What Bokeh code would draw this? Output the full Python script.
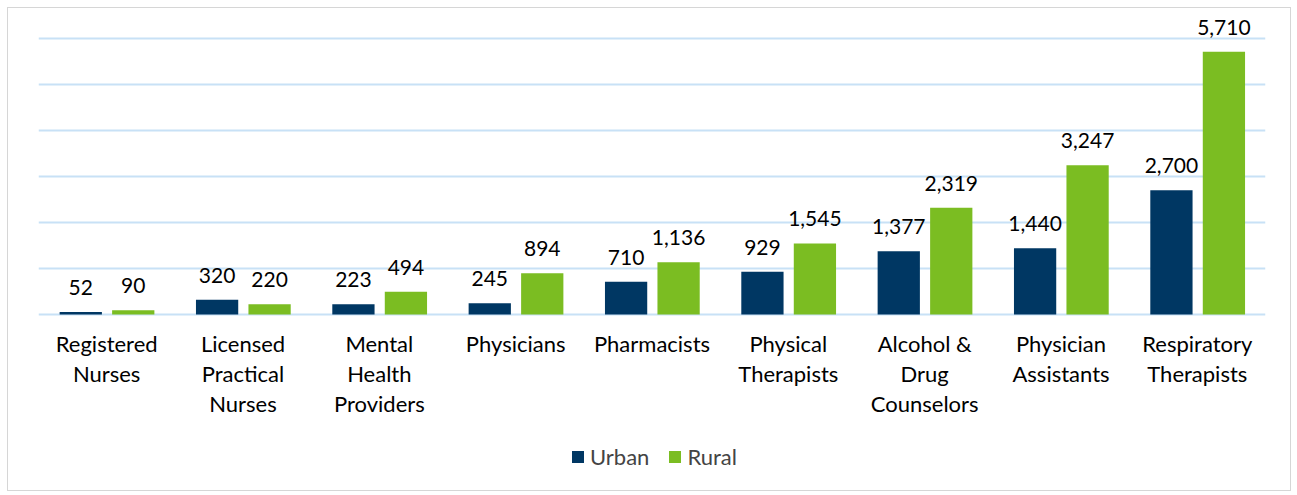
from bokeh.plotting import figure
from bokeh.models import ColumnDataSource, Legend, LegendItem, FixedTicker, FactorRange
from bokeh.transform import dodge
from bokeh.core.properties import value
from bokeh.embed import file_html
from bokeh.resources import INLINE

categories = ["Registered Nurses", "Licensed Practical Nurses", "Mental Health Providers",
              "Physicians", "Pharmacists", "Physical Therapists", "Alcohol & Drug Counselors",
              "Physician Assistants", "Respiratory Therapists"]
cat_labels = ["Registered\nNurses", "Licensed\nPractical\nNurses", "Mental\nHealth\nProviders",
              "Physicians", "Pharmacists", "Physical\nTherapists", "Alcohol &\nDrug\nCounselors",
              "Physician\nAssistants", "Respiratory\nTherapists"]
urban = [52, 320, 223, 245, 710, 929, 1377, 1440, 2700]
rural = [90, 220, 494, 894, 1136, 1545, 2319, 3247, 5710]
grid_ticks = [0, 1000, 2000, 3000, 4000, 5000, 6000]

src = ColumnDataSource(dict(
    cat=categories, clab=cat_labels, zero=[0] * len(categories),
    urban=urban, rural=rural,
    ulab=[f"{v:,}" for v in urban], rlab=[f"{v:,}" for v in rural],
))

FONT = "Lato"
NAVY = "#003763"
GREEN = "#7bbd22"
GRID = "#c8e1f6"

# frame spans the whole figure height; space below 0 holds labels and legend
p = figure(x_range=FactorRange(*categories), y_range=(-3870, 6652),
           width=1284, height=484, output_backend="svg", toolbar_location=None,
           min_border_left=30, min_border_right=27, min_border_top=0, min_border_bottom=0)
p.styles = {"border": "1px solid #d6d6d6", "margin-left": "7px", "margin-top": "7px"}
p.outline_line_color = None
p.background_fill_color = "white"
p.border_fill_color = "white"
p.xaxis.visible = False
p.yaxis.visible = False

p.ygrid.ticker = FixedTicker(ticks=grid_ticks)
p.ygrid.grid_line_color = GRID
p.ygrid.grid_line_width = 2
p.xgrid.grid_line_color = None

ru = p.vbar(x=dodge("cat", -0.19, range=p.x_range), top="urban", width=0.31, source=src,
            fill_color=NAVY, line_color=None)
rr = p.vbar(x=dodge("cat", 0.195, range=p.x_range), top="rural", width=0.31, source=src,
            fill_color=GREEN, line_color=None)

p.text(x=dodge("cat", -0.19, range=p.x_range), y="urban", text="ulab", source=src,
       text_align="center", text_baseline="bottom", y_offset=-17,
       text_font=value(FONT), text_font_size="21px", text_color="#000000")
p.text(x=dodge("cat", 0.195, range=p.x_range), y="rural", text="rlab", source=src,
       text_align="center", text_baseline="bottom", y_offset=-17,
       text_font=value(FONT), text_font_size="21px", text_color="#000000")

# category labels
p.text(x="cat", y="zero", text="clab", source=src,
       text_align="center", text_baseline="top", y_offset=16,
       text_font=value(FONT), text_font_size="22px", text_color="#000000",
       text_line_height=1.11)

legend = Legend(items=[LegendItem(label="Urban", renderers=[ru]),
                       LegendItem(label="Rural", renderers=[rr])],
                orientation="horizontal", location=(532, 22),
                label_text_font=FONT, label_text_font_size="22px",
                glyph_width=15, glyph_height=15, label_standoff=5, spacing=18,
                border_line_color=None, background_fill_alpha=0,
                margin=0, padding=5)
p.add_layout(legend, "center")

open("out.html", "w").write(file_html(p, INLINE))
